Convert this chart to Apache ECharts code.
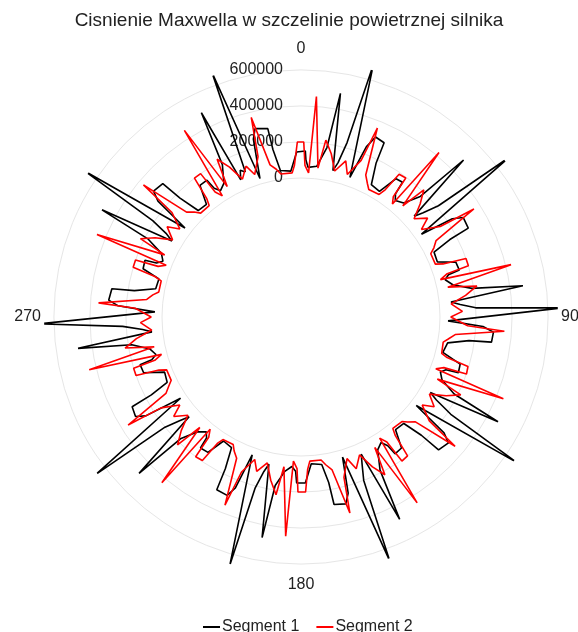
<!DOCTYPE html>
<html>
<head>
<meta charset="utf-8">
<script src="https://cdn.jsdelivr.net/npm/echarts@6/dist/echarts.min.js"></script>
<style>html,body{margin:0;padding:0;background:#fff;}#c{width:578px;height:632px;}</style>
</head>
<body>
<div id="c"></div>
<script>
const title = 'Cisnienie Maxwella w szczelinie powietrznej silnika';
const seriesNames = ['Segment 1', 'Segment 2'];
const angleTicks = [0, 90, 180, 270];
const radiusTicks = [0, 200000, 400000, 600000];

const seg1Angle = [
  339, 340, 343.5, 345, 346.3, 350, 350.5, 352, 356, 358.5, 1.5, 1.8, 2.7, 6, 8.7, 10, 12.3, 13.5,
  14.8, 16, 19.3, 21, 22.5, 25.5, 26, 28, 32, 34.5, 37, 37.5, 39, 42, 44.7, 46, 48.3, 49.5,
  51, 52.5, 55.5, 57, 58.5, 62, 62.5, 64, 68, 70.5, 73.5, 74, 75.5, 78, 80.5, 82, 84.3, 85.5,
  87, 88, 91.5, 93, 94.5, 97.5, 98, 100, 104, 106.5, 109.5, 110, 111.5, 114, 116.7, 118, 120.3, 121.5,
  123, 124, 127.5, 129, 130.5, 134, 134.5, 136, 140, 142.5, 145.5, 146, 147.5, 150, 152.7, 154, 156.3, 157.5,
  159, 160, 163.5, 165, 166.5, 170, 170.5, 172, 176, 178.5, 181.5, 182, 183.5, 186, 188.7, 190, 192.3, 193.5,
  195, 196, 199.5, 201, 202.5, 206, 206.5, 208, 212, 214.5, 217.5, 218, 219.5, 222, 224.7, 226, 228.3, 229.5,
  231, 232.5, 236, 237.5, 239, 242, 242.5, 244, 248, 250.5, 253.5, 254, 255.5, 258, 260.7, 262, 264.3, 265.5,
  267, 268.5, 272, 273.5, 275, 278.5, 279, 281, 285, 287, 290, 290.5, 292, 294.5, 297, 298.3, 300.5, 301.8,
  303, 304, 307.5, 309, 310.5, 314, 314.5, 316, 320, 322.5, 325.5, 326, 327.5, 330, 332.7, 334, 336.3, 337.5,
  339
];
const seg1Value = [
  90000, 672000, 30000, 250000, 305000, 290000, 170000, 50000, 40000, 145000, 150000, 100000, 60000, 70000, 180000, 489000, 60000, 110000,
  230000, 683000, 50000, 240000, 310000, 300000, 180000, 60000, 50000, 160000, 165000, 90000, 60000, 80000, 170000, 483000, 70000, 120000,
  210000, 678000, 40000, 230000, 285000, 280000, 160000, 50000, 45000, 140000, 145000, 80000, 55000, 90000, 190000, 472000, 65000, 115000,
  200000, 683000, 45000, 240000, 300000, 295000, 170000, 55000, 40000, 150000, 155000, 85000, 60000, 85000, 180000, 467000, 60000, 110000,
  220000, 672000, 35000, 250000, 305000, 290000, 165000, 50000, 45000, 145000, 150000, 90000, 55000, 80000, 185000, 478000, 60000, 115000,
  200000, 672000, 40000, 240000, 295000, 285000, 160000, 55000, 45000, 150000, 150000, 85000, 60000, 90000, 175000, 472000, 65000, 110000,
  210000, 661000, 40000, 245000, 300000, 295000, 170000, 50000, 40000, 140000, 145000, 80000, 55000, 85000, 180000, 478000, 60000, 115000,
  200000, 661000, 35000, 250000, 300000, 290000, 165000, 55000, 45000, 155000, 160000, 90000, 60000, 85000, 180000, 478000, 60000, 110000,
  220000, 678000, 40000, 245000, 300000, 290000, 165000, 50000, 45000, 145000, 150000, 85000, 55000, 80000, 180000, 483000, 60000, 110000,
  210000, 678000, 40000, 250000, 305000, 295000, 170000, 50000, 45000, 150000, 150000, 90000, 60000, 85000, 180000, 490000, 60000, 110000,
  90000
];

const seg2Angle = [
  340, 342, 345, 346, 348.5, 350.5, 352, 356.5, 357.5, 358.8, 0.9, 1.5, 3, 4, 6.5, 8, 10.5, 13,
  16, 18, 21, 22, 24.5, 26.5, 28, 32.5, 33.5, 34.5, 37, 37.5, 39, 40, 42.5, 44, 46.5, 49,
  52, 54, 57, 58, 60.5, 62.5, 64, 68.5, 69.5, 70.5, 73, 73.5, 75, 76, 78.5, 80, 82.5, 85,
  88, 90, 93, 94, 96.5, 98.5, 100, 104.5, 105.5, 106.5, 109, 109.5, 111, 112, 114.5, 116, 118.5, 121,
  124, 126, 129, 130, 132.5, 134.5, 136, 140.5, 141.5, 142.5, 145, 145.5, 147, 148, 150.5, 152, 154.5, 157,
  160, 162, 165, 166, 168.5, 170.5, 172, 176.5, 177.5, 178.5, 181, 181.5, 183, 184, 186.5, 188, 190.5, 193,
  196, 198, 201, 202, 204.5, 206.5, 208, 212.5, 213.5, 214.5, 217, 217.5, 219, 220, 222.5, 224, 226.5, 229,
  232, 234, 237, 238, 240.5, 242.5, 244, 248.5, 249.5, 250.5, 253, 253.5, 255, 256, 258.5, 260, 262.5, 265,
  268, 270, 273, 274, 276.5, 278.5, 280, 284.5, 285.5, 286.5, 289, 289.5, 291, 292, 294.5, 296, 298.5, 301,
  304, 306, 309, 310, 312.5, 314.5, 316, 320.5, 321.5, 322.5, 325, 325.5, 327, 328, 330.5, 332, 334.5, 337,
  340
];
const seg2Value = [
  120000, 60000, 150000, 370000, 90000, 60000, 30000, 30000, 70000, 200000, 200000, 70000, 30000, 455000, 60000, 220000, 150000, 60000,
  130000, 60000, 160000, 360000, 95000, 55000, 30000, 35000, 75000, 190000, 195000, 70000, 35000, 420000, 65000, 210000, 140000, 60000,
  120000, 55000, 150000, 360000, 90000, 60000, 30000, 30000, 70000, 200000, 200000, 75000, 30000, 430000, 60000, 220000, 150000, 65000,
  125000, 60000, 155000, 360000, 90000, 55000, 30000, 35000, 70000, 195000, 200000, 70000, 30000, 440000, 60000, 215000, 145000, 60000,
  120000, 60000, 145000, 345000, 90000, 60000, 35000, 30000, 70000, 200000, 205000, 70000, 30000, 445000, 60000, 220000, 150000, 60000,
  125000, 55000, 150000, 350000, 95000, 60000, 30000, 30000, 75000, 200000, 200000, 70000, 30000, 448000, 65000, 225000, 150000, 60000,
  120000, 60000, 150000, 355000, 90000, 60000, 30000, 35000, 70000, 195000, 200000, 70000, 30000, 430000, 60000, 215000, 145000, 60000,
  125000, 60000, 155000, 360000, 90000, 55000, 30000, 30000, 70000, 200000, 200000, 75000, 30000, 440000, 60000, 220000, 150000, 60000,
  120000, 60000, 150000, 355000, 90000, 60000, 30000, 30000, 70000, 200000, 200000, 70000, 30000, 450000, 60000, 220000, 150000, 60000,
  125000, 60000, 150000, 370000, 90000, 60000, 30000, 30000, 70000, 200000, 200000, 70000, 30000, 450000, 60000, 220000, 150000, 60000,
  120000
];

const FONT = '"Liberation Sans", Arial, sans-serif';
const GRID = '#e6e6e6';
const chart = echarts.init(document.getElementById('c'));
chart.setOption({
  backgroundColor: '#fff',
  animation: false,
  title: {
    text: title, left: 'center', top: 6,
    textStyle: { fontFamily: FONT, fontSize: 19, fontWeight: 'normal', color: '#222' }
  },
  legend: {
    top: 614, left: 198,
    itemWidth: 17, itemHeight: 2, itemGap: 17,
    icon: 'rect',
    textStyle: { fontFamily: FONT, fontSize: 16, color: '#222', padding: [0, 0, 0, -3] },
    data: seriesNames
  },
  polar: { center: [301, 317], radius: [139, 257] },
  angleAxis: {
    type: 'value', min: 0, max: 360, interval: 90,
    startAngle: 90, clockwise: true,
    axisLine: { show: false }, axisTick: { show: false }, splitLine: { show: false },
    axisLabel: {
      margin: 3, fontFamily: FONT, fontSize: 16, color: '#222',
      formatter: v => (angleTicks.indexOf(v) >= 0 ? String(v) : '')
    }
  },
  radiusAxis: {
    type: 'value', min: 0, max: 655000, interval: 200000,
    axisLine: { show: false }, axisTick: { show: false },
    splitLine: { show: true, lineStyle: { color: [GRID, GRID, GRID, GRID, 'rgba(0,0,0,0)'], width: 1 } },
    axisLabel: {
      fontFamily: FONT, fontSize: 16, color: '#222', margin: 18,
      formatter: v => (radiusTicks.indexOf(v) >= 0 ? String(v) : '')
    }
  },
  series: [
    {
      name: seriesNames[0], type: 'line', coordinateSystem: 'polar',
      showSymbol: false, symbol: 'none', clip: false,
      lineStyle: { color: '#000', width: 1.6 }, itemStyle: { color: '#000' },
      data: seg1Angle.map((a, i) => [seg1Value[i], a])
    },
    {
      name: seriesNames[1], type: 'line', coordinateSystem: 'polar',
      showSymbol: false, symbol: 'none', clip: false,
      lineStyle: { color: '#ff0000', width: 1.6 }, itemStyle: { color: '#ff0000' },
      data: seg2Angle.map((a, i) => [seg2Value[i], a])
    }
  ]
});
</script>
</body>
</html>
